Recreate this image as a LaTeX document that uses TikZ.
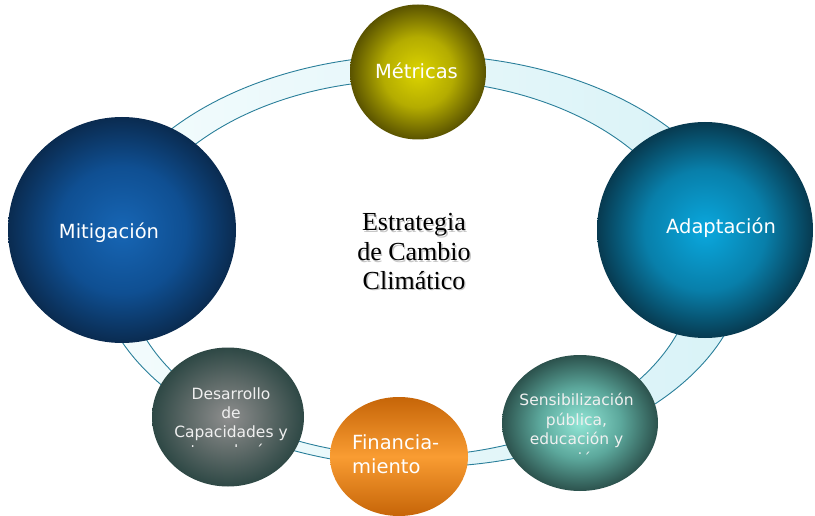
\documentclass[tikz,border=0pt]{standalone}
\usepackage{fontspec}
\setmainfont{Liberation Serif}
\newfontfamily\myvsans{DejaVu Sans}
\usetikzlibrary{shapes.geometric}

\definecolor{ringline}{HTML}{2A7F9A}
\definecolor{ringL}{HTML}{F4FCFD}
\definecolor{ringR}{HTML}{D8F2F7}
\definecolor{metIn}{HTML}{DCD400}\definecolor{metMid}{HTML}{B4AC00}\definecolor{metOut}{HTML}{5A5300}
\definecolor{mitIn}{HTML}{1766B5}\definecolor{mitMid}{HTML}{0F4F92}\definecolor{mitOut}{HTML}{0A2B50}
\definecolor{adaIn}{HTML}{0AA8DE}\definecolor{adaMid}{HTML}{087FAA}\definecolor{adaOut}{HTML}{073A50}
\definecolor{desIn}{HTML}{8E8E8E}\definecolor{desMid}{HTML}{5E6A68}\definecolor{desOut}{HTML}{2E4845}
\definecolor{senIn}{HTML}{92E6D6}\definecolor{senMid}{HTML}{5CA89C}\definecolor{senOut}{HTML}{2C524D}
\definecolor{finIn}{HTML}{F99C32}\definecolor{finOut}{HTML}{C66508}

\pgfdeclareradialshading{shMet}{\pgfpointorigin}{color(0bp)=(metIn); color(13bp)=(metMid); color(25bp)=(metOut); color(50bp)=(metOut)}
\pgfdeclareradialshading{shMit}{\pgfpointorigin}{color(0bp)=(mitIn); color(14bp)=(mitMid); color(25bp)=(mitOut); color(50bp)=(mitOut)}
\pgfdeclareradialshading{shAda}{\pgfpointorigin}{color(0bp)=(adaIn); color(14bp)=(adaMid); color(25bp)=(adaOut); color(50bp)=(adaOut)}
\pgfdeclareradialshading{shDes}{\pgfpointorigin}{color(0bp)=(desIn); color(13bp)=(desMid); color(25bp)=(desOut); color(50bp)=(desOut)}
\pgfdeclareradialshading{shSen}{\pgfpointorigin}{color(0bp)=(senIn); color(13bp)=(senMid); color(25bp)=(senOut); color(50bp)=(senOut)}

\begin{document}
\begin{tikzpicture}[x=1pt,y=-1pt,
  ball/.style={ellipse, draw=none, inner sep=0pt, shade},
  big/.style={font=\myvsans\fontsize{19.5}{24}\selectfont, text=white, anchor=base, inner sep=0pt},
  small/.style={font=\myvsans\fontsize{15.5}{19}\selectfont, text=white!94!black, anchor=base, inner sep=0pt},
  ctr/.style={font=\fontsize{26}{30}\selectfont, anchor=base, inner sep=0pt},
  ctrsh/.style={ctr, text=black!22}]
\useasboundingbox (0,0) rectangle (815,516);

% ring
\shade[even odd rule, left color=ringL, right color=ringR]
  (421,261) ellipse [x radius=325, y radius=206]
  (410,268) ellipse [x radius=285, y radius=188];
\draw[ringline, line width=0.9pt] (421,261) ellipse [x radius=325, y radius=206];
\draw[ringline, line width=0.9pt] (410,268) ellipse [x radius=285, y radius=188];

% balls
\node[ball, shading=shMet, minimum width=136, minimum height=135] (met) at (418,72) {};
\node[ball, shading=shMit, minimum width=228, minimum height=226] (mit) at (122,230) {};
\node[ball, shading=shAda, minimum width=216, minimum height=216] (ada) at (705,230) {};
\node[ball, shading=shDes, minimum width=152, minimum height=139] (des) at (228,417) {};
\node[ball, shading=shSen, minimum width=156, minimum height=136] (sen) at (580,423) {};
\node[ball, top color=finOut, bottom color=finOut, middle color=finIn,
      minimum width=138, minimum height=119] (fin) at (399,456.5) {};

% labels
\node[big] (tmet) at (416.5,79) {Métricas};
\node[big] (tmit) at (109,239) {Mitigación};
\node[big] (tada) at (721,234) {Adaptación};
\node[big, anchor=base west] (tfin1) at (352,449) {Financia-};
\node[big, anchor=base west] (tfin2) at (352,473) {miento};

\node[small] (tdes1) at (231,399) {Desarrollo};
\node[small] (tdes2) at (231,418) {de};
\node[small] (tdes3) at (231,437) {Capacidades y};
\begin{scope}
  \clip (150,441) rectangle (310,446.5);
  \node[small] (tdes4) at (231,456) {tecnología};
\end{scope}

\node[small] (tsen1) at (576.5,405) {Sensibilización};
\node[small] (tsen2) at (576.5,425) {pública,};
\node[small] (tsen3) at (576.5,444.5) {educación y};
\begin{scope}
  \clip (500,449) rectangle (660,454.5);
  \node[small] (tsen4) at (576.5,464) {acción};
\end{scope}

% centre title with soft shadow
\node[ctrsh] (s1) at (415.3,232.3) {Estrategia};
\node[ctrsh] (s2) at (415.3,262.3) {de Cambio};
\node[ctrsh] (s3) at (415.3,290.8) {Climático};
\node[ctr] (c1) at (414,231) {Estrategia};
\node[ctr] (c2) at (414,261) {de Cambio};
\node[ctr] (c3) at (414,289.5) {Climático};
\end{tikzpicture}
\end{document}
